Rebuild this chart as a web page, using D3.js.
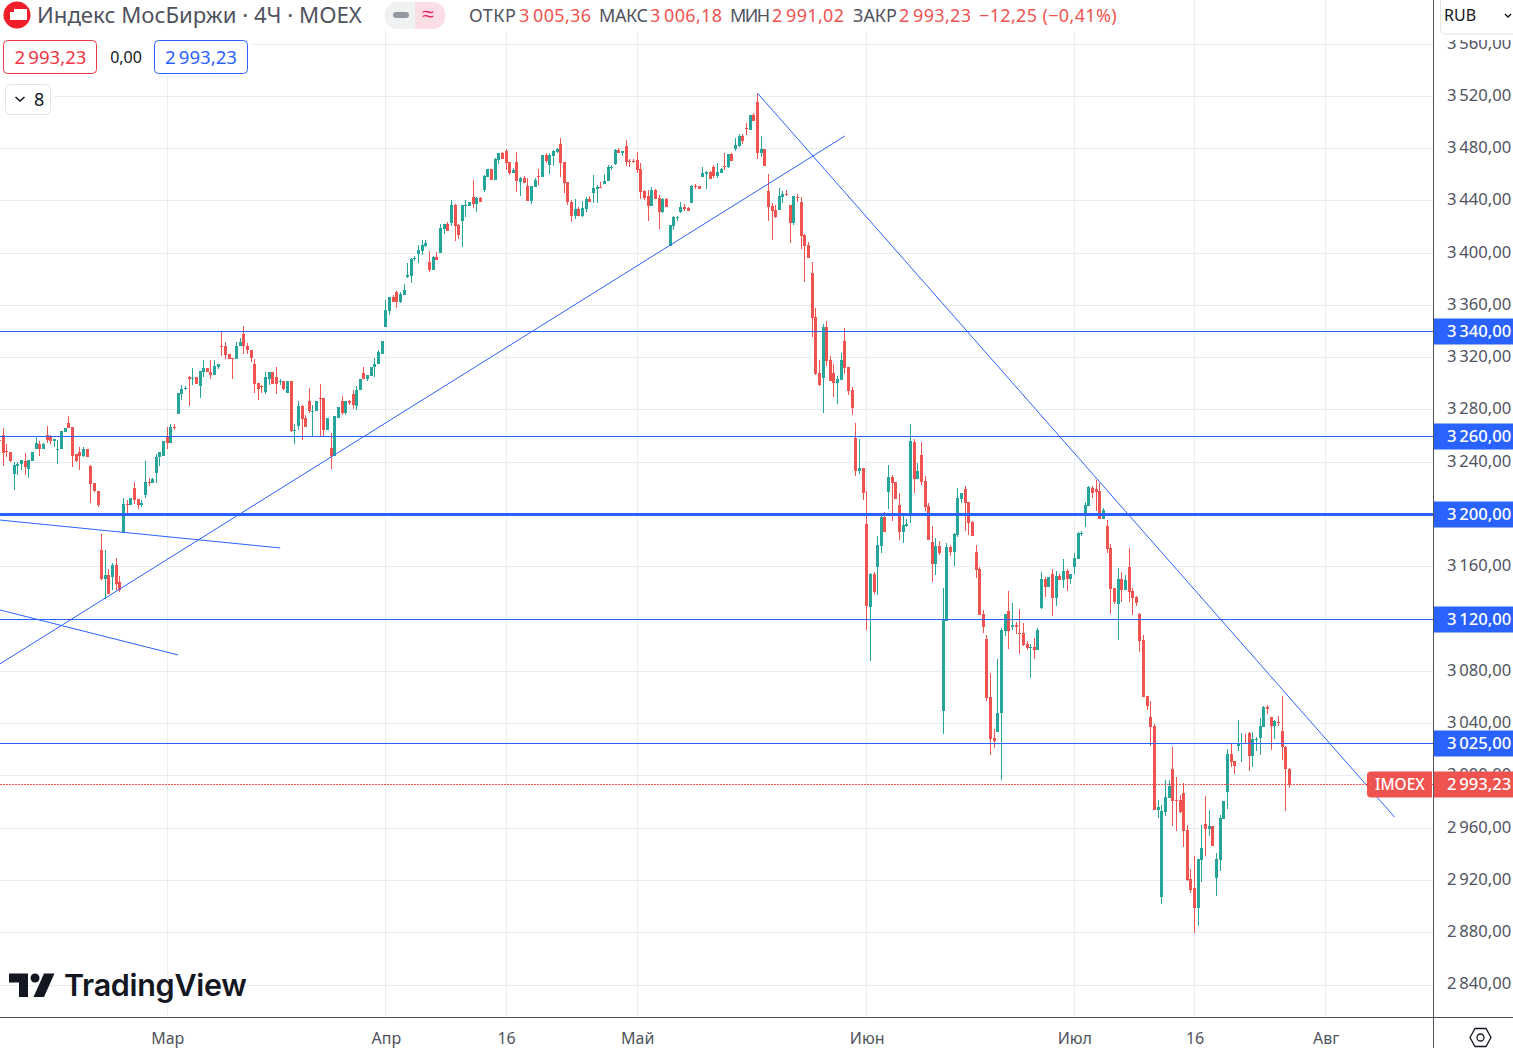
<!DOCTYPE html>
<html>
<head>
<meta charset="utf-8">
<script src="https://cdn.jsdelivr.net/npm/d3@7"></script>
<style>
  html, body { margin: 0; background: #fff; overflow: hidden; }
  svg { display: block; font-family: "Noto Sans", sans-serif; }
</style>
</head>
<body>
<div id="chart"></div>
<script>
// each bar is [open, high, low, close]
const febBars = [
  [3257.3,3258,3256,3257],[3261,3266,3237,3247],[3248.5,3254,3244,3248],[3247.5,3248,3240,3241],
  [3231,3240,3219,3238],[3237,3240,3230,3239],[3239,3242,3234,3242],[3241,3247,3230,3236],
  [3235,3242,3228,3242],[3241,3248,3241,3248],[3250,3259,3250,3255],[3254,3256,3245,3250.5],
  [3250.5,3255,3250,3254],[3261,3268,3255,3257],[3260,3261,3254,3256],[3256,3258,3252,3258],
  [3249,3257,3239,3250],[3250,3264,3250,3264],[3263,3266,3263,3266],[3270,3275,3266,3266],
  [3267,3267,3236,3245],[3246,3246,3240,3241],[3247.5,3252,3234,3245],[3245,3252,3244,3250],
  [3250,3250,3244,3244],[3237,3238,3209,3223],[3224,3224,3217,3218],[3218,3218,3206,3207],
  [3173,3185,3150,3151],[3151,3172.6,3135,3154],[3154,3158,3139,3139],[3152,3163,3142,3161],
  [3161,3167,3142,3147],[3148,3153,3141,3142],[3186,3213,3186,3208],[3208,3211,3200,3207.5],
  [3207,3213,3207,3213],[3220,3225,3208,3211],[3211.5,3212,3204,3207],[3207,3211,3206,3209],
  [3215,3241,3213,3225],[3225,3228,3222,3224.5],[3224,3228,3224,3227],[3232,3246,3224,3244],
  [3244,3248,3237,3248],[3245,3256,3245,3256]
];
const marBars = [
  [3259,3267,3250,3255],[3255,3269,3255,3266.6],[3266.6,3269,3265,3266.4],[3277,3293,3277,3293],
  [3292.5,3299,3288,3296],[3296,3298,3295,3296.5],[3305.5,3306,3283,3304],[3304,3312,3299,3304.5],
  [3305,3305.6,3300,3300],[3298,3310,3289,3310],[3309,3318,3305,3312],[3312,3312,3309,3309],
  [3309,3318,3304,3307],[3307,3318,3307,3314],[3313,3315.5,3311,3315.5],[3329,3340,3321.6,3328.7],
  [3329,3332,3319,3322],[3323,3323,3319,3319],[3320,3320,3304,3319],[3319,3332,3319,3329],
  [3329,3335,3329,3332],[3338,3344,3323,3329],[3329,3331,3323,3325.5],[3325.5,3325.5,3317,3320],
  [3315,3319,3293,3300],[3301,3301,3288,3296],[3298,3299,3293,3297.5],[3294,3309,3292,3305],
  [3304,3309,3299,3309],[3309,3309,3299.5,3299.5],[3305.6,3313,3292,3299.5],[3301.5,3304,3299,3302],
  [3302,3302.5,3295,3296],[3293,3302.5,3293,3302.5],[3302.5,3302.5,3263,3263.6],[3264,3269,3254,3265],
  [3268,3286.5,3265,3283],[3283,3283.5,3257,3273],[3273.5,3276.5,3266.6,3266.6],[3286.5,3297,3278,3279],
  [3279,3283.5,3260,3279.5],[3279,3286.5,3279,3286.5],[3289.5,3299.5,3260,3289],[3289,3289,3260,3265],
  [3265,3273.5,3265,3273.5],[3251,3262,3235,3245],[3245,3275,3245,3275],[3273.5,3282,3273.5,3282],
  [3286.5,3291,3276.5,3278],[3278,3287,3276,3286.5],[3286.5,3288,3283.5,3285],[3292,3295.5,3281,3283.5],
  [3283,3298.7,3279.6,3295.5],[3295,3304,3295,3304],[3308,3312.5,3304,3304],[3304,3307,3302.5,3307],
  [3306,3312.5,3306,3312.5],[3312.5,3319.4,3305,3315.5],[3315,3326,3315,3324],[3323,3332.4,3323,3332.4]
];
const aprBars = [
  [3343.4,3364,3343.4,3356.4],[3355.7,3366.4,3352.6,3366.4],[3366.4,3368,3362.5,3362.5],[3370,3371,3358,3362.5],
  [3362.5,3370,3361.7,3368.7],[3368,3376.3,3368,3372],[3381.6,3392.4,3381,3383],[3382.4,3396.2,3377,3395.4],
  [3395.7,3397.7,3394,3396.2],[3399,3406,3392.5,3402.3],[3401.5,3410,3398.5,3406],[3405.3,3410,3404.6,3407.6],
  [3393,3401.5,3385.5,3387],[3387,3397.7,3387,3397],[3397,3400.8,3394.6,3394.6],[3400,3422,3400,3419],
  [3418.3,3422,3414.5,3422],[3422,3423.7,3416.8,3416.8],[3423,3441,3421,3436.7],[3436.7,3437.5,3409,3420.6],
  [3421.4,3422,3410.7,3413.7],[3424.5,3436.7,3405,3436.7],[3436.2,3440.5,3428,3436.7],[3436,3439,3436,3439],
  [3442.8,3455.8,3434.4,3437.4],[3437.4,3442.8,3431.3,3442],[3442,3442.8,3439,3439],[3448,3459.6,3446.6,3459],
  [3458,3464,3458,3464],[3464,3464,3455.8,3455.8],[3455.8,3472.6,3455.8,3472],[3471,3476.4,3468,3476.4],
  [3476.4,3477,3472,3472],[3478,3479.5,3463.4,3469],[3469.6,3469.6,3459.6,3461],[3461,3465,3461,3463.4],
  [3469.6,3477,3446.6,3455],[3454.3,3458,3443.6,3457.3],[3457.3,3459,3453.5,3453.5],[3451,3457.3,3439.7,3439.7],
  [3439.7,3451,3437.4,3451],[3450.4,3457.3,3450.4,3455.8],[3458.8,3464,3452,3458],[3458,3475,3458,3475],
  [3475,3476.4,3468.8,3470.3],[3467.3,3476.4,3460.4,3475],[3474,3478.7,3466.5,3478],[3477,3480.3,3476.4,3479.5],
  [3483.3,3487.9,3458,3468.8],[3469.6,3469.6,3445.8,3453.5],[3454.3,3454.3,3436.7,3439],[3439,3440.5,3423.7,3428.3],
  [3428.3,3441.3,3426,3433.6],[3433.6,3435,3428.3,3428.3],[3428.3,3439.7,3427.5,3434.4],[3433.6,3442.8,3431.3,3441.3],
  [3441.3,3443.6,3439,3439],[3445.8,3459.6,3438.2,3449.7],[3448.9,3452,3438.2,3450.4],[3450.4,3454.3,3449.7,3449.7],
  [3452.7,3460.4,3452.7,3455],[3455,3467.3,3455,3465.7],[3465.2,3467.3,3463.4,3465.7],[3468,3479.5,3467.3,3478.7],
  [3478.7,3480.3,3476.4,3476.4],[3476.4,3478,3474,3478],[3481.8,3486.4,3466.5,3469.6],[3470.3,3471.8,3465.7,3469.8],
  [3470.3,3471.8,3468.8,3469.8]
];
const mayBars = [
  [3471,3477,3461,3463.4],[3464.2,3468.8,3441.3,3446.6],[3447.4,3448.2,3440.5,3442],[3443.6,3448.2,3424.5,3436],
  [3436,3450.4,3436,3448.2],[3448.2,3449,3441.3,3441.3],[3442,3444.3,3418.3,3431.3],[3431.3,3442,3430.6,3441.3],
  [3441.3,3442,3435,3435],[3405.3,3421.4,3405.3,3421.4],[3420.6,3428.3,3417.5,3427.5],[3427,3428.3,3424.5,3427.5],
  [3431.3,3439,3430.6,3435.2],[3435.2,3437.4,3432,3434],[3434.4,3435.2,3432,3432],[3438.2,3452,3438.2,3451.2],
  [3451.2,3452.7,3449,3450.7],[3451.2,3451.2,3449,3449],[3458,3465.7,3458,3461],[3460.4,3462.7,3449,3462],
  [3462,3462.7,3456.6,3456.6],[3465.7,3467.3,3457.3,3458.8],[3458.8,3468.8,3457.3,3462],[3461,3465,3461,3464],
  [3466.5,3476.4,3463.4,3466],[3465.7,3475.7,3465,3475.7],[3475.7,3476.4,3470.3,3470.3],[3479.5,3487.9,3478,3482.5],
  [3481.8,3491,3481,3489.4],[3489.4,3491,3483.3,3485.6],[3495.5,3499.4,3490.2,3495],[3494,3506,3494,3506],
  [3506,3507,3501,3501],[3516,3522,3472,3476.4],[3476.4,3490,3473.4,3479.5],[3479.5,3479.5,3467,3467],
  [3447.4,3460.4,3424.4,3435],[3436,3438,3410,3432],[3433,3436.7,3426.7,3427.5],[3433,3449.7,3433,3443.6],
  [3442.8,3447.4,3438,3445],[3445,3448,3443.6,3444.5],[3436.7,3436.7,3407.6,3423],[3423,3443.6,3421.4,3443.6],
  [3443,3445,3439,3442],[3439,3442.8,3403,3413],[3413.7,3414.5,3378,3405.3],[3406,3408.4,3396,3396],
  [3384.7,3393,3335.8,3350],[3351,3358,3306.7,3307.5],[3308.3,3318,3298,3299],[3304.4,3345.7,3277.7,3343.4],
  [3343.4,3348,3313.6,3317.4],[3318,3321.3,3302,3302],[3308.3,3315,3290,3300.6],[3300.6,3306,3284.6,3303.7],
  [3303,3323.5,3303,3318],[3332.7,3342.7,3307.5,3312],[3312.8,3312.8,3291.4,3294.5],[3295.3,3297.6,3276,3281.5],
  [3258.6,3270,3229.6,3233.4],[3233.4,3257.8,3231,3235.7],[3235.7,3235.7,3211.2,3216.6]
];
const junBars = [
  [3192.9,3218,3111.8,3130],[3129.4,3155.4,3088,3154.6],[3154.6,3156,3139,3141],[3160,3183.7,3138.6,3176.8],
  [3176,3199,3170.7,3198.2],[3198.2,3202,3186.7,3186.7],[3217.3,3238,3204.3,3228.8],[3228.8,3230.3,3195,3224.2],
  [3225,3225,3212,3212],[3207.4,3216.6,3180.6,3186.7],[3186.7,3200.5,3178.3,3192],[3191.3,3196.7,3190.6,3192.9],
  [3199,3269.3,3193.6,3256.3],[3255.5,3257.8,3216.6,3227.3],[3227.3,3239.5,3227.3,3233.4],[3245.6,3255.5,3222.7,3225],
  [3225.7,3229.6,3202.8,3205.9],[3206.6,3209,3180.6,3180.6],[3179,3191.3,3148.5,3162.3],[3162.3,3182,3153.9,3176],
  [3176,3179.9,3169.2,3170.7],[3049.9,3144,3032.3,3119.5],[3118.7,3178.3,3118.7,3175.3],[3175.3,3176.8,3168.4,3171.5],
  [3171.5,3186,3160.8,3185.2],[3184.5,3220.4,3183,3212.7],[3212,3216.6,3208.9,3216.6],[3219.6,3221.9,3187.5,3208.9],
  [3209.7,3209.7,3184.5,3193.6],[3194.4,3195,3183.7,3183.7],[3171.5,3176.8,3151.6,3157.7],[3158.5,3160,3123.3,3123.3],
  [3124,3127.1,3109.5,3114],[3105,3108,3057.6,3059.9],[3060.6,3079,3016.3,3028.5],[3029.3,3036,3021.6,3027],
  [3033.9,3089.7,3033.9,3048.4],[3048.4,3113.4,2997,3111.8],[3111,3124,3107,3124],[3126.4,3141.6,3097.3,3111],
  [3114.1,3132.5,3111.8,3115.7],[3115.7,3118,3108.8,3114.1],[3109.7,3127.9,3093.5,3109.3],[3109.5,3117.2,3099.6,3100.4],
  [3101,3103.4,3096.5,3098],[3098,3101,3075,3098.9],[3098.9,3105.7,3089.7,3096.5],[3096.5,3113.4,3096.5,3111.8],
  [3128.6,3156,3127.9,3150.8],[3150.8,3152.4,3137,3144.7],[3144.7,3152.4,3144.7,3152.4],[3154.6,3158.5,3122.5,3136.3],
  [3136.3,3157,3130,3153],[3153,3154.4,3150,3150],[3149.8,3165.9,3143.7,3156.7],[3156.7,3158.2,3141.4,3150.6],
  [3150.6,3154.4,3146.7,3154.4]
];
const julBars = [
  [3159.7,3170.4,3154.4,3166.6],[3165.9,3186.5,3165.9,3185.7],[3185.7,3187.3,3183.4,3186.2],[3198.7,3209.4,3190.3,3207.1],
  [3206.4,3221.7,3206.4,3220.9],[3220.1,3221.7,3212.5,3216.3],[3219.4,3226.2,3202.5,3217],[3217.8,3224,3196.4,3196.4],
  [3196.4,3204.8,3196.4,3203.3],[3191,3195.7,3170.4,3173.5],[3174.3,3177.3,3123.8,3142.9],[3143.7,3143.7,3131.5,3133],
  [3131.5,3159,3104,3150.6],[3150.6,3155.9,3133,3142.2],[3142.2,3153.6,3142.2,3149.8],[3159.7,3174.3,3133,3140.6],
  [3141.4,3143.7,3123,3136],[3136.8,3137.6,3130,3132.2],[3123.8,3124.6,3094.8,3103.2],[3104,3107.8,3060.4,3060.4],
  [3060.9,3060.9,3050.2,3053.2],[3044.8,3057,3022.7,3037.2],[3038,3039.5,2973.7,2973.7],[2973.7,2981.4,2967.6,2976],
  [2907.2,2977.6,2901.9,2973],[2972.2,2996.7,2969,2983.7],[2982.9,2996.7,2982.9,2992],[3005,3021.9,2961.5,2980.6],
  [2981.4,2999,2957.7,2980.9],[2981.4,2985.2,2971.5,2972.2],[2986.7,2994.4,2945.5,2957.7],[2958.5,2962.3,2919.5,2920.2],
  [2921,2928.7,2910.3,2912.6],[2914.1,2938.6,2879.7,2898.8],[2898.8,2936.3,2885,2936.3],[2935.5,2962.3,2918.7,2944.7],
  [2963,2984.5,2938.6,2959.2],[2959.2,2973.7,2953.9,2961.5],[2961.5,2961.5,2946.2,2946.2],[2921.8,2940.9,2908,2936.3],
  [2935.5,2970,2927.1,2967.6],[2966.9,2980.6,2966.9,2980.6],[2987.5,3020.4,2974.5,3016.6],[3016.6,3025,3006.6,3010.4],
  [3011.2,3011.2,3001.3,3007.4],[3022.7,3042.5,3018.9,3024.2],[3024.7,3032.6,3010.4,3025],[3025,3031.8,3024.2,3024.7],
  [3032.6,3033.4,3003.6,3015],[3015,3033.4,3006.6,3028],[3027.8,3029.6,3018.9,3028],[3028.8,3044,3015.8,3038],
  [3037.2,3053.2,3037.2,3052.5],[3052.5,3054,3047.1,3051],[3044.8,3044.8,3019.6,3038],[3038,3042.5,3028,3041.8],
  [3041.5,3045.6,3038,3041],[3034.1,3060.9,3012,3021.9],[3021.9,3022.7,2973,3005],[3005.36,3006.18,2991.02,2993.23]
];

const priceTicks = [3560, 3520, 3480, 3440, 3400, 3360, 3320, 3280, 3240, 3200, 3160, 3120, 3080, 3040, 3000, 2960, 2920, 2880, 2840];
const levels = [3340, 3260, 3200, 3120, 3025];
const heavyLevel = 3200;
const lastPrice = 2993.23;

const timeBars = [46, 106, 139, 175, 238, 295, 328, 364];
const timeLabels = ["Мар", "Апр", "16", "Май", "Июн", "Июл", "16", "Авг"];

// drawn trend lines as [bar, price, bar, price]
const trendLines = [
  [0, 3085.6, 232, 3489.6],
  [208, 3522.5, 382.9, 2968.5],
  [0, 3195.8, 77, 3174.4],
  [0, 3127, 49, 3092.5]
];

const bars = [...febBars, ...marBars, ...aprBars, ...mayBars, ...junBars, ...julBars];

const width = 1513;
const height = 1048;
const plotRight = 1433;
const plotBottom = 1017;

const BLUE = "#2962ff";
const RED = "#ef5350";
const GREEN = "#26a69a";
const GRID = "#e6eef4";
const TEXT = "#50535e";

const x = d3.scaleLinear().domain([0, bars.length - 1]).range([-0.3, 1289.3]);
const y = d3.scaleLinear().domain([2840, 3520]).range([985, 96.3]);

const ruFormat = d3.formatLocale({
  decimal: ",",
  thousands: "\u2009",
  grouping: [3],
  currency: ["", ""],
}).format(",.2f");

const svg = d3.select("#chart").append("svg").attr("width", width).attr("height", height);
const crisp = (v) => Math.floor(v) + 0.5;

// grid
svg.append("g").selectAll("line").data(priceTicks).join("line")
  .attr("x1", 0).attr("x2", plotRight)
  .attr("y1", (d) => crisp(y(d))).attr("y2", (d) => crisp(y(d)))
  .attr("stroke", GRID);
svg.append("g").selectAll("line").data(timeBars).join("line")
  .attr("x1", (d) => crisp(x(d))).attr("x2", (d) => crisp(x(d)))
  .attr("y1", 0).attr("y2", plotBottom)
  .attr("stroke", GRID);

// candles
const candle = svg.append("g").selectAll("g").data(bars).join("g")
  .attr("fill", (d) => (d[3] >= d[0] ? GREEN : RED));
candle.append("rect")
  .attr("x", (d, i) => Math.floor(x(i)))
  .attr("width", 1)
  .attr("y", (d) => Math.round(y(d[1])))
  .attr("height", (d) => Math.max(1, Math.round(y(d[2])) - Math.round(y(d[1]))));
candle.append("rect")
  .attr("x", (d, i) => Math.floor(x(i)) - 1)
  .attr("width", 3)
  .attr("y", (d) => Math.round(y(Math.max(d[0], d[3]))))
  .attr("height", (d) => Math.max(1, Math.round(y(Math.min(d[0], d[3]))) - Math.round(y(Math.max(d[0], d[3])))));

// levels and trend lines
svg.append("g").selectAll("line").data(levels).join("line")
  .attr("x1", 0).attr("x2", plotRight)
  .attr("y1", (d) => crisp(y(d))).attr("y2", (d) => crisp(y(d)))
  .attr("stroke", BLUE)
  .attr("stroke-width", (d) => (d === heavyLevel ? 3 : 1));
svg.append("g").selectAll("line").data(trendLines).join("line")
  .attr("x1", (d) => x(d[0])).attr("y1", (d) => y(d[1]))
  .attr("x2", (d) => x(d[2])).attr("y2", (d) => y(d[3]))
  .attr("stroke", BLUE);
svg.append("line")
  .attr("x1", 0).attr("x2", plotRight)
  .attr("y1", crisp(y(lastPrice))).attr("y2", crisp(y(lastPrice)))
  .attr("stroke", RED).attr("stroke-dasharray", "2 1");

// axes
const priceAxis = svg.append("g")
  .attr("transform", `translate(${plotRight},0)`)
  .call(d3.axisRight(y).tickValues(priceTicks).tickSize(0).tickPadding(14).tickFormat(ruFormat));
priceAxis.select(".domain").remove();
priceAxis.selectAll("text").attr("fill", TEXT).attr("font-size", 16.6).attr("dy", "0.24em")
  .attr("font-family", '"Noto Sans", sans-serif');

const timeAxis = svg.append("g")
  .attr("transform", `translate(0,${plotBottom})`)
  .call(d3.axisBottom(x).tickValues(timeBars).tickSize(0).tickPadding(16).tickFormat((d, i) => timeLabels[i]));
timeAxis.select(".domain").remove();
timeAxis.selectAll("text").attr("fill", TEXT).attr("font-size", 16)
  .attr("font-family", '"Noto Sans", sans-serif');

svg.append("line").attr("x1", 1433.5).attr("x2", 1433.5).attr("y1", 0).attr("y2", height).attr("stroke", TEXT);
svg.append("line").attr("x1", 0).attr("x2", width).attr("y1", plotBottom + 0.5).attr("y2", plotBottom + 0.5).attr("stroke", TEXT);

// price tags on the axis
const tags = svg.append("g").selectAll("g").data(levels).join("g")
  .attr("transform", (d) => `translate(${plotRight + 1},${crisp(y(d))})`);
tags.append("rect").attr("y", -13).attr("width", 80).attr("height", 26).attr("fill", BLUE);
tags.append("text").attr("x", 13).attr("dy", "0.35em").attr("fill", "#fff").attr("font-size", 16.6).attr("font-weight", 500)
  .text((d) => ruFormat(d));

const lastTag = svg.append("g").attr("transform", `translate(0,${crisp(y(lastPrice))})`);
lastTag.append("path").attr("d", "M1432,-13H1371a4,4 0 0 0 -4,4V9a4,4 0 0 0 4,4H1432Z").attr("fill", RED);
lastTag.append("rect").attr("x", plotRight + 1).attr("y", -13).attr("width", 80).attr("height", 26).attr("fill", RED);
lastTag.append("text").attr("x", 1375).attr("dy", "0.35em").attr("fill", "#fff").attr("font-size", 15.4).attr("font-weight", 500).text("IMOEX");
lastTag.append("text").attr("x", plotRight + 14).attr("dy", "0.35em").attr("fill", "#fff").attr("font-size", 16.6).attr("font-weight", 500).text(ruFormat(lastPrice));

// legend
const legend = svg.append("g");
legend.append("rect").attr("width", 1122).attr("height", 32).attr("fill", "#fff").attr("fill-opacity", 0.85);
legend.append("rect").attr("y", 32).attr("width", 252).attr("height", 44).attr("fill", "#fff");
legend.append("rect").attr("y", 80).attr("width", 54).attr("height", 36).attr("fill", "#fff");
legend.append("circle").attr("cx", 17).attr("cy", 15).attr("r", 13.5).attr("fill", "#f01e2a");
legend.append("path").attr("d", "M10,12h4v-3h13v11H10Z").attr("fill", "#fff");
legend.append("text").attr("x", 37).attr("y", 23).attr("fill", TEXT).attr("font-size", 22.2).text("Индекс МосБиржи · 4Ч · MOEX");

legend.append("path").attr("d", "M399,2h-2a12.5,13.5 0 0 0 0,27h18V2Z").attr("fill", "#f0f1f3");
legend.append("path").attr("d", "M415,2h18a12.5,13.5 0 0 1 0,27h-18Z").attr("fill", "#fbdde6");
legend.append("rect").attr("x", 393).attr("y", 12).attr("width", 16).attr("height", 6).attr("rx", 3).attr("fill", "#9598a1");
legend.append("text").attr("x", 428).attr("y", 21).attr("text-anchor", "middle").attr("fill", "#e91e63").attr("font-size", 21).attr("font-weight", 500).text("≈");

// the labels are squeezed a little so they stop short of their values
const ohlcText = [
  [469, "ОТКР", TEXT, 47], [519, "3\u2009005,36", RED],
  [599, "МАКС", TEXT, 49], [650, "3\u2009006,18", RED],
  [730, "МИН", TEXT, 40], [772, "2\u2009991,02", RED],
  [853, "ЗАКР", TEXT, 44], [899, "2\u2009993,23", RED],
  [979, "−12,25 (−0,41%)", RED],
];
legend.append("g").selectAll("text").data(ohlcText).join("text")
  .attr("x", (d) => d[0]).attr("y", 21.5).attr("font-size", 18).attr("fill", (d) => d[2])
  .attr("letter-spacing", (d) => (d[3] ? null : 0.35))
  .attr("textLength", (d) => d[3] || null)
  .text((d) => d[1]);

legend.append("rect").attr("x", 3.5).attr("y", 40.5).attr("width", 93).attr("height", 33).attr("rx", 4).attr("fill", "#fff").attr("stroke", "#f23645");
legend.append("text").attr("x", 50.5).attr("y", 63.5).attr("text-anchor", "middle").attr("fill", "#f23645").attr("font-size", 18.6).text("2\u2009993,23");
legend.append("text").attr("x", 126).attr("y", 63).attr("text-anchor", "middle").attr("fill", "#131722").attr("font-size", 16).text("0,00");
legend.append("rect").attr("x", 154.5).attr("y", 40.5).attr("width", 93).attr("height", 33).attr("rx", 4).attr("fill", "#fff").attr("stroke", BLUE);
legend.append("text").attr("x", 201).attr("y", 63.5).attr("text-anchor", "middle").attr("fill", BLUE).attr("font-size", 18.6).text("2\u2009993,23");

legend.append("rect").attr("x", 5.5).attr("y", 84.5).attr("width", 45).attr("height", 30).attr("rx", 4).attr("fill", "#fff").attr("stroke", "#e0e3eb");
legend.append("path").attr("d", "M15.5,97l4.5,4l4.5,-4").attr("fill", "none").attr("stroke", "#131722").attr("stroke-width", 1.6);
legend.append("text").attr("x", 34).attr("y", 106).attr("fill", "#131722").attr("font-size", 18).text("8");

// currency button, it sits over the top price label
svg.append("rect").attr("x", 1434).attr("y", 0).attr("width", 79).attr("height", 40).attr("fill", "#fff");
svg.append("rect").attr("x", 1440.5).attr("y", -6).attr("width", 90).attr("height", 40).attr("rx", 5).attr("fill", "#fff").attr("stroke", "#e0e3eb");
svg.append("text").attr("x", 1444).attr("y", 21).attr("fill", "#131722").attr("font-size", 16).text("RUB");
svg.append("path").attr("d", "M1505,14l3,3l3,-3").attr("fill", "none").attr("stroke", "#131722").attr("stroke-width", 1.4);

// logo
svg.append("path").attr("d", "M9,973.5H28V997H19V982.5H9Z M44,973.5H54.5L44,997H33.5Z").attr("fill", "#131722");
svg.append("circle").attr("cx", 35).attr("cy", 978).attr("r", 4.5).attr("fill", "#131722");
svg.append("text").attr("x", 64).attr("y", 996).attr("fill", "#131722").attr("font-family", "Inter").attr("font-weight", 600).attr("font-size", 30.5).attr("letter-spacing", -0.3).text("TradingView");

// settings gear
svg.append("path").attr("d", "M1470,1037.5l5,-9h11l5,9l-5,9h-11Z").attr("fill", "none").attr("stroke", "#131722").attr("stroke-width", 1.3);
svg.append("circle").attr("cx", 1480.5).attr("cy", 1037.5).attr("r", 3.5).attr("fill", "none").attr("stroke", "#131722").attr("stroke-width", 1.3);
</script>
</body>
</html>
